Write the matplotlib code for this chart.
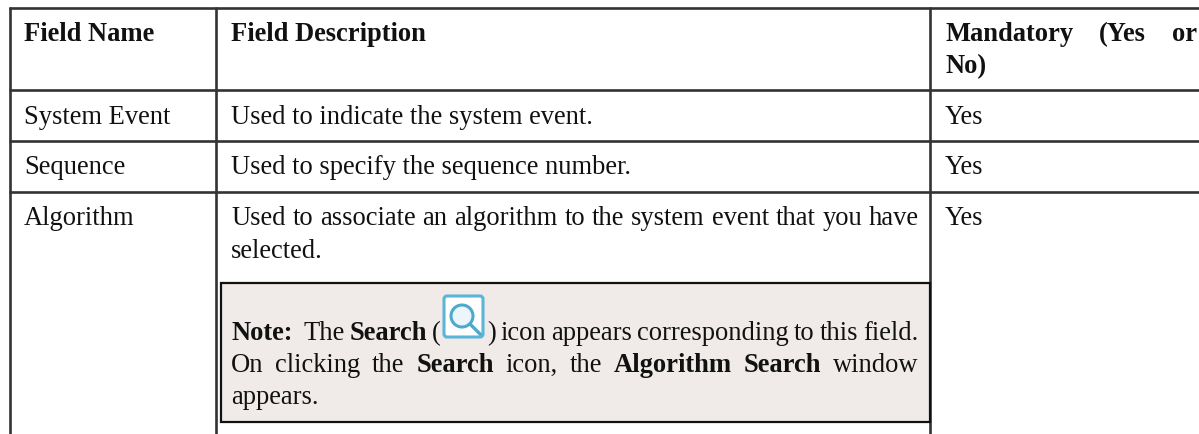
import matplotlib
matplotlib.use('Agg')
import matplotlib.pyplot as plt
from matplotlib.patches import Rectangle, FancyBboxPatch, Circle

# table text, word lists are (word, bold)
header_names = ['Field Name', 'Field Description']
mandatory_words = ['Mandatory', '(Yes', 'or']
mandatory_second = 'No)'
field_names = ['System Event', 'Sequence', 'Algorithm']
field_desc = ['Used to indicate the system event.', 'Used to specify the sequence number.']
mandatory_vals = ['Yes', 'Yes', 'Yes']
algo_line1 = 'Used to associate an algorithm to the system event that you have'
algo_line2 = 'selected.'
note_label = 'Note:'
note_a = [('The', False), ('Search', True), ('(', False)]
note_b = [(')', False), ('icon', False), ('appears', False), ('corresponding', False),
          ('to', False), ('this', False), ('field.', False)]
note_c = [('On', False), ('clicking', False), ('the', False), ('Search', True), ('icon,', False),
          ('the', False), ('Algorithm', True), ('Search', True), ('window', False)]
note_d = 'appears.'

W, H = 1199, 435
FS = 19.1
LINE = '#333333'

plt.rcParams['font.family'] = 'Liberation Serif'
fig = plt.figure(figsize=(W / 100, H / 100), dpi=100)
ax = fig.add_axes([0, 0, 1, 1])
ax.set_xlim(0, W)
ax.set_ylim(H, 0)
ax.axis('off')


def put(x, y, s, bold=False):
    return ax.text(x, y, s, fontsize=FS, fontweight='bold' if bold else 'normal',
                   va='baseline', ha='left', color='#111111', zorder=4)


def justify(words, x0, x1, y):
    # spread the words over x0..x1 like a justified line
    r = fig.canvas.get_renderer()
    items = [put(x0, y, w, b) for w, b in words]
    widths = [t.get_window_extent(r).width for t in items]
    gap = (x1 - x0 - sum(widths)) / (len(items) - 1)
    x = x0
    for t, w in zip(items, widths):
        t.set_x(x)
        x += w + gap


# grid lines
ax.plot([8.5, W], [8.5, 8.5], color=LINE, lw=1.9, solid_capstyle='butt')
for y in [90.5, 141.5, 192.5]:
    ax.plot([9, W], [y, y], color=LINE, lw=1.9, solid_capstyle='butt')
for x in [9.5, 215.5, 929.5]:
    ax.plot([x, x], [8, H], color=LINE, lw=1.9, solid_capstyle='butt')

# note box
ax.add_patch(Rectangle((220.5, 283.5), 709, 139, facecolor='#f0ebe9', edgecolor='#111111', lw=1.6, zorder=2))

# header
put(24, 41, header_names[0], True)
put(231, 41, header_names[1], True)
justify([(w, True) for w in mandatory_words], 945, 1197, 41)
put(945, 73, mandatory_second, True)

# rows
put(24, 124, field_names[0])
put(24, 174, field_names[1])
put(24, 225, field_names[2])
put(231, 124, field_desc[0])
put(231, 174, field_desc[1])
justify([(w, False) for w in algo_line1.split()], 231, 919, 225)
put(231, 258, algo_line2)
put(945, 124, mandatory_vals[0])
put(945, 174, mandatory_vals[1])
put(945, 225, mandatory_vals[2])

# note text, the icon sits inside the first line
put(231, 340, note_label, True)
justify(note_a, 304, 441, 340)
justify(note_b, 487, 918, 340)
justify(note_c, 231, 918, 372)
put(231, 404, note_d)

# search icon
ax.add_patch(FancyBboxPatch((444, 297), 39, 41, boxstyle='round,pad=0,rounding_size=3', facecolor='#ffffff',
                            edgecolor='#5ab6d8', lw=2.2, zorder=3))
ax.add_patch(Circle((462, 317), 11, facecolor='#eaf6fb', edgecolor='#4fa9cc', lw=2.2, zorder=3))
ax.plot([470, 480], [325, 335], color='#4fa9cc', lw=2.4, zorder=3)

fig.savefig('out.png', dpi=100)
